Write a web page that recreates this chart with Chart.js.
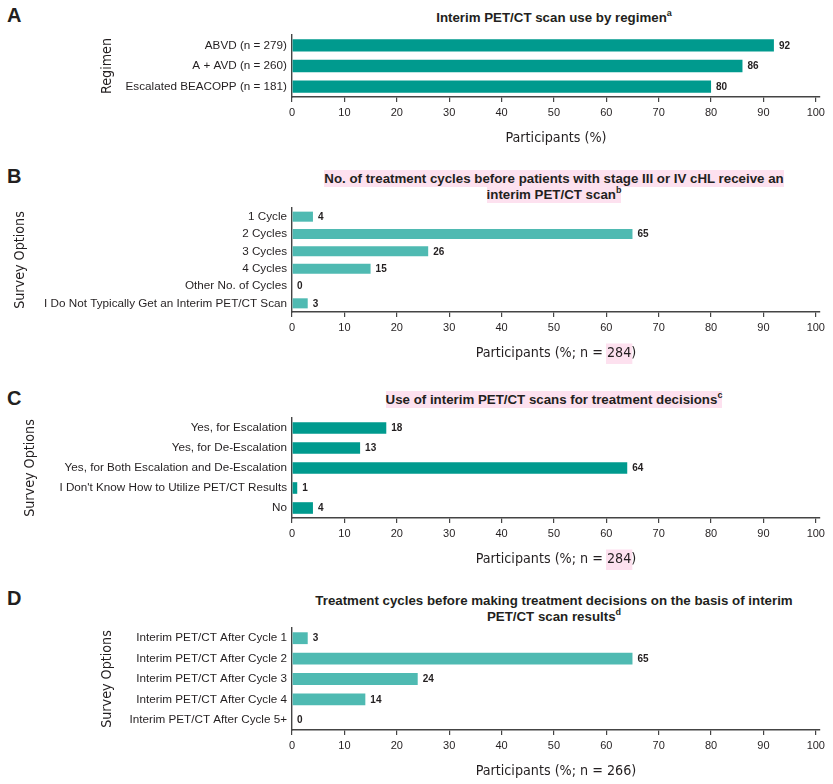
<!DOCTYPE html>
<html>
<head>
<meta charset="utf-8">
<script src="https://cdn.jsdelivr.net/npm/chart.js@4.4.1/dist/chart.umd.min.js"></script>
<style>
  body { margin: 0; background: #fff; width: 833px; height: 784px; position: relative; overflow: hidden;
         font-family: "Liberation Sans", Arial, sans-serif; color: #231f20; }
  canvas { position: absolute; left: 0; }
  .letter { position: absolute; left: 7px; font-weight: bold; font-size: 20px; line-height: 20px; }
  .title { position: absolute; left: 292px; width: 524px; text-align: center; font-weight: bold;
           font-size: 13.3px; line-height: 15.5px; }
  .hl { background: #fde1ef; padding: 1px 0; }
  sup { font-size: 9px; line-height: 0; vertical-align: 6px; }
</style>
</head>
<body>
<div class="letter" style="top:5px">A</div>
<div class="title" style="top:10px">Interim PET/CT scan use by regimen<sup>a</sup></div>
<canvas id="chartA" width="833" height="149" style="top:0px"></canvas>

<div class="letter" style="top:166px">B</div>
<div class="title" style="top:171px"><span class="hl">No. of treatment cycles before patients with stage III or IV cHL receive an</span><br><span class="hl">interim PET/CT scan<sup>b</sup></span></div>
<canvas id="chartB" width="833" height="214" style="top:150px"></canvas>

<div class="letter" style="top:388px">C</div>
<div class="title" style="top:392px"><span class="hl">Use of interim PET/CT scans for treatment decisions<sup>c</sup></span></div>
<canvas id="chartC" width="833" height="205" style="top:365px"></canvas>

<div class="letter" style="top:588px">D</div>
<div class="title" style="top:593px">Treatment cycles before making treatment decisions on the basis of interim<br>PET/CT scan results<sup>d</sup></div>
<canvas id="chartD" width="833" height="211" style="top:571px"></canvas>

<script>
// panel A
const regimens = ['ABVD (n = 279)', 'A + AVD (n = 260)', 'Escalated BEACOPP (n = 181)'];
const regimenUse = [92, 86, 80];

// panel B
const cycleOptions = ['1 Cycle', '2 Cycles', '3 Cycles', '4 Cycles', 'Other No. of Cycles',
  'I Do Not Typically Get an Interim PET/CT Scan'];
const cycleShares = [4, 65, 26, 15, 0, 3];

// panel C
const decisionOptions = ['Yes, for Escalation', 'Yes, for De-Escalation',
  'Yes, for Both Escalation and De-Escalation', "I Don't Know How to Utilize PET/CT Results", 'No'];
const decisionShares = [18, 13, 64, 1, 4];

// panel D
const decisionCycleOptions = ['Interim PET/CT After Cycle 1', 'Interim PET/CT After Cycle 2',
  'Interim PET/CT After Cycle 3', 'Interim PET/CT After Cycle 4', 'Interim PET/CT After Cycle 5+'];
const decisionCycleShares = [3, 65, 24, 14, 0];

const xTicks = [0, 10, 20, 30, 40, 50, 60, 70, 80, 90, 100];

const darkTeal = '#009a8e';
const lightTeal = '#4fbab2';
const ink = '#231f20';
const pink = '#fde1ef';
const narrow = '"Liberation Sans Narrow", "DejaVu Sans Condensed", "Arial Narrow", sans-serif';
const sans = '"Liberation Sans", Arial, sans-serif';
const axisTitleSize = 14.2;

// numbers printed at the end of each bar
const valueLabels = {
  id: 'valueLabels',
  afterDatasetsDraw(chart) {
    const ctx = chart.ctx;
    const meta = chart.getDatasetMeta(0);
    const data = chart.data.datasets[0].data;
    ctx.save();
    ctx.font = 'bold 10px ' + sans;
    ctx.fillStyle = ink;
    ctx.textBaseline = 'middle';
    ctx.textAlign = 'left';
    meta.data.forEach((bar, i) => ctx.fillText(data[i], bar.x + 5, bar.y + 0.5));
    ctx.restore();
  }
};

// pink marker behind part of the x axis title
const titleMark = {
  id: 'titleMark',
  beforeDraw(chart, args, opts) {
    if (!opts.text) return;
    const scale = chart.scales.x;
    const text = scale.options.title.text;
    const ctx = chart.ctx;
    ctx.save();
    ctx.font = axisTitleSize + 'px ' + narrow;
    const full = ctx.measureText(text).width;
    const pre = ctx.measureText(text.slice(0, text.indexOf(opts.text))).width;
    const w = ctx.measureText(opts.text).width;
    const cx = (scale.left + scale.right) / 2;
    const cy = scale.bottom - 2 - axisTitleSize * 0.6;
    ctx.fillStyle = pink;
    ctx.fillRect(cx - full / 2 + pre - 1, cy - 10, w + 2, 21);
    ctx.restore();
  }
};

function makePanel(id, labels, values, color, yTitle, xTitle, padTop, padLeft, barPct, mark) {
  return new Chart(document.getElementById(id), {
    type: 'bar',
    data: {
      labels: labels,
      datasets: [{ data: values, backgroundColor: color, barPercentage: barPct, categoryPercentage: 1 }]
    },
    options: {
      indexAxis: 'y',
      responsive: false,
      animation: false,
      events: [],
      layout: { padding: { top: padTop, left: padLeft, right: 13, bottom: 0 } },
      plugins: {
        legend: { display: false },
        tooltip: { enabled: false },
        titleMark: { text: mark }
      },
      scales: {
        x: {
          min: 0,
          max: 100.8,
          afterFit: (s) => { s.height = 52; },
          afterBuildTicks: (s) => { s.ticks = xTicks.map(v => ({ value: v })); },
          grid: { display: true, drawOnChartArea: false, drawTicks: true, tickLength: 5, color: '#444', lineWidth: 1.2 },
          border: { display: true, color: '#444', width: 1.4 },
          ticks: { color: ink, font: { family: sans, size: 11 }, padding: 4, maxRotation: 0 },
          title: { display: true, text: xTitle, color: ink, font: { family: narrow, size: axisTitleSize }, padding: { top: 0, bottom: 2 } }
        },
        y: {
          afterFit: (s) => { s.width = 292 - padLeft; },
          grid: { display: false, drawTicks: false, tickLength: 0 },
          border: { display: true, color: '#444', width: 1.4 },
          ticks: { color: ink, font: { family: sans, size: 11.7 }, padding: 5, autoSkip: false },
          title: { display: true, text: yTitle, color: ink, font: { family: narrow, size: axisTitleSize }, padding: 0 }
        }
      }
    },
    plugins: [valueLabels, titleMark]
  });
}

makePanel('chartA', regimens, regimenUse, darkTeal, 'Regimen', 'Participants (%)', 35, 99, 0.6, null);
makePanel('chartB', cycleOptions, cycleShares, lightTeal, 'Survey Options', 'Participants (%; n = 284)', 58, 12, 0.58, '284');
makePanel('chartC', decisionOptions, decisionShares, darkTeal, 'Survey Options', 'Participants (%; n = 284)', 53, 22, 0.58, '284');
makePanel('chartD', decisionCycleOptions, decisionCycleShares, lightTeal, 'Survey Options', 'Participants (%; n = 266)', 57, 99, 0.58, null);
</script>
</body>
</html>
